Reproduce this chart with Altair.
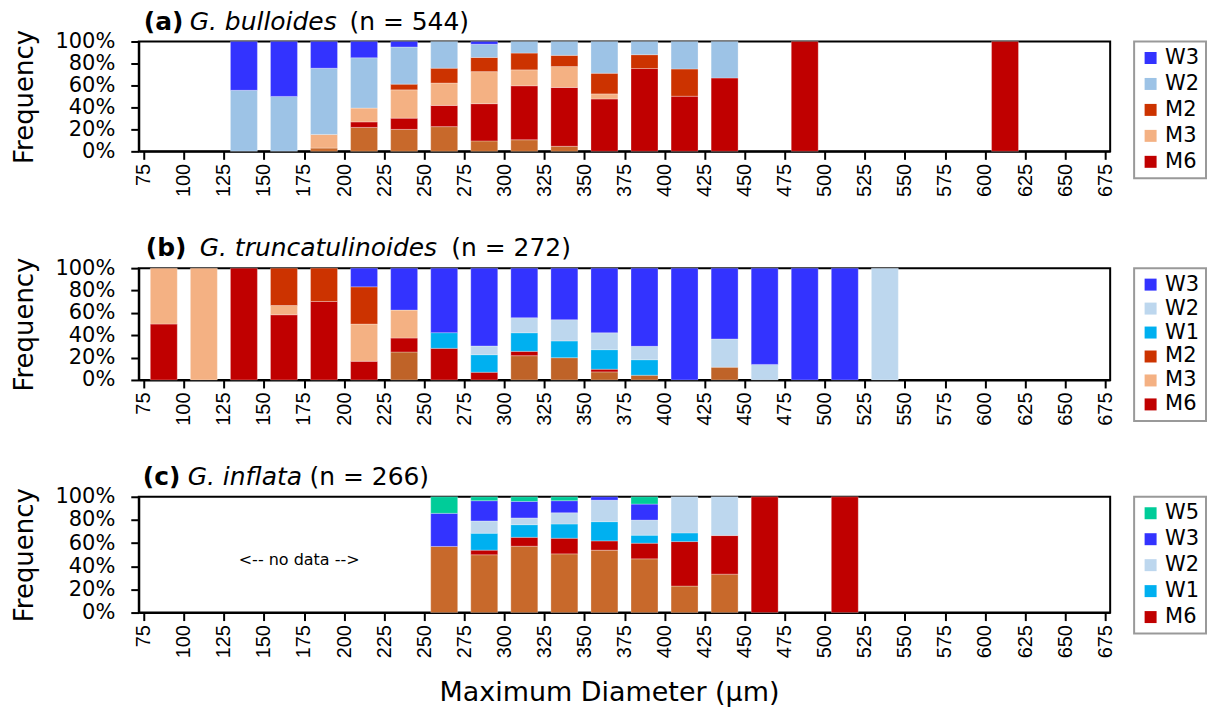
import altair as alt
import pandas as pd

# ---------------------------------------------------------------------------
# Size-class frequencies (%) per 25 µm maximum-diameter bin (bin centres).
# "Other" is the unlabelled bottom segment of each stack.
# ---------------------------------------------------------------------------

# (a) G. bulloides
a_bins = [137.5, 162.5, 187.5, 212.5, 237.5, 262.5, 287.5, 312.5, 337.5, 362.5, 387.5, 412.5, 437.5, 487.5, 612.5]
a_other = [0, 0, 3.0, 21.8, 20.0, 22.5, 9.5, 10.5, 4.6, 0, 0, 0, 0, 0, 0]
a_m6 = [0, 0, 0, 5.0, 10.2, 19.3, 33.9, 49.2, 53.6, 47.7, 75.4, 50.2, 66.8, 100, 100]
a_m3 = [0, 0, 12.4, 12.6, 25.8, 20.4, 29.2, 14.5, 19.0, 4.6, 0, 0, 0, 0, 0]
a_m2 = [0, 0, 0, 0, 5.2, 13.5, 12.9, 15.3, 10.2, 18.8, 12.6, 24.8, 0, 0, 0]
a_w2 = [55.6, 50.0, 60.3, 45.8, 33.8, 24.3, 12.0, 10.5, 12.6, 28.9, 12.0, 25.0, 33.2, 0, 0]
a_w3 = [44.4, 50.0, 24.3, 14.8, 5.0, 0, 2.5, 0, 0, 0, 0, 0, 0, 0, 0]

# (b) G. truncatulinoides
b_bins = [87.5, 112.5, 137.5, 162.5, 187.5, 212.5, 237.5, 262.5, 287.5, 312.5,
          337.5, 362.5, 387.5, 412.5, 437.5, 462.5, 487.5, 512.5, 537.5]
b_other = [0, 0, 0, 0, 0, 0, 25.0, 0, 0, 21.7, 19.9, 7.2, 4.2, 0, 11.4, 0, 0, 0, 0]
b_m6 = [50.0, 0, 100, 58.3, 70.2, 16.7, 12.5, 28.3, 6.9, 3.9, 0, 2.4, 0, 0, 0, 0, 0, 0, 0]
b_m3 = [50.0, 100, 0, 8.3, 0, 33.3, 25.0, 0, 0, 0, 0, 0, 0, 0, 0, 0, 0, 0, 0]
b_m2 = [0, 0, 0, 33.4, 29.8, 33.3, 0, 0, 0, 0, 0, 0, 0, 0, 0, 0, 0, 0, 0]
b_w1 = [0, 0, 0, 0, 0, 0, 0, 14.0, 15.7, 16.6, 15.0, 17.5, 13.9, 0, 0, 0, 0, 0, 0]
b_w2 = [0, 0, 0, 0, 0, 0, 0, 0, 7.8, 13.5, 19.0, 15.1, 12.0, 0, 25.3, 13.9, 0, 0, 100]
b_w3 = [0, 0, 0, 0, 0, 16.7, 37.5, 57.7, 69.6, 44.3, 46.1, 57.8, 69.9, 100, 63.3, 86.1, 100, 100, 0]

# (c) G. inflata
c_bins = [262.5, 287.5, 312.5, 337.5, 362.5, 387.5, 412.5, 437.5, 462.5, 512.5]
c_other = [57.1, 49.9, 57.3, 50.7, 53.9, 46.4, 22.9, 33.2, 0, 0]
c_m6 = [0, 4.0, 7.7, 13.5, 8.0, 13.5, 38.4, 33.3, 100, 100]
c_w1 = [0, 14.6, 10.9, 12.3, 16.6, 6.9, 7.5, 0, 0, 0]
c_w2 = [0, 10.6, 5.8, 9.7, 18.6, 13.1, 31.2, 33.5, 0, 0]
c_w3 = [28.6, 17.5, 14.3, 10.4, 2.9, 13.8, 0, 0, 0, 0]
c_w5 = [14.3, 3.4, 4.0, 3.4, 0, 6.3, 0, 0, 0, 0]

# Axis ticks
x_ticks = list(range(75, 676, 25))
y_ticks = [0, 20, 40, 60, 80, 100]

# Colours per class
COLORS = {
    "W5": "#00CC99",
    "W3": "#3333FF",
    "W1": "#00B0F0",
    "M2": "#CC3300",
    "M3": "#F4B183",
    "M6": "#C00000",
}

STACK = ["Other", "M6", "M3", "M2", "W1", "W2", "W3", "W5"]

TEXT_FONT = "DejaVu Sans"
TICK_FONT = "Liberation Sans"

X_SCALE = alt.Scale(domain=[75, 675], nice=False, zero=False)
Y_SCALE = alt.Scale(domain=[0, 100], nice=False)


def frame(bins, series):
    rows = []
    for cls, vals in series.items():
        for b, v in zip(bins, vals):
            if v > 0:
                rows.append({"bin": b, "cls": cls, "pct": v, "rank": STACK.index(cls)})
    return pd.DataFrame(rows)


def heading(parts):
    layers = []
    for text, x, weight, style in parts:
        layers.append(
            alt.Chart(pd.DataFrame({"t": [text]}))
            .mark_text(
                align="left", baseline="alphabetic", font=TEXT_FONT, fontSize=25,
                fontWeight=weight, fontStyle=style, color="black",
            )
            .encode(x=alt.value(x), y=alt.value(-12), text="t:N")
        )
    return layers


def axes(x_title):
    x_axis = alt.Axis(
        values=x_ticks, labelAngle=270, labelFont=TICK_FONT, labelFontSize=20,
        tickSize=8, labelPadding=4, title=x_title, titleFont=TEXT_FONT,
        titleFontSize=27, titleFontWeight="normal", titlePadding=22,
        titleX=471,
    )
    y_axis = alt.Axis(
        values=y_ticks, labelExpr="datum.value + '%'", labelFont=TEXT_FONT,
        labelFontSize=21, labelOverlap=False, tickSize=8, labelPadding=16,
        title="Frequency", titleFont=TEXT_FONT, titleFontSize=26,
        titleFontWeight="normal", titlePadding=17,
    )
    return x_axis, y_axis


def panel(bins, series, legend_order, colors, height, parts, row_pad,
          x_title=None, note=None):
    df = frame(bins, series)
    domain = legend_order + ["Other"]
    x_axis, y_axis = axes(x_title)
    bars = (
        alt.Chart(df)
        .mark_bar(size=27, stroke="white", strokeWidth=0.8, strokeOpacity=0.35)
        .encode(
            x=alt.X("bin:Q", scale=X_SCALE, axis=x_axis),
            y=alt.Y("pct:Q", stack="zero", scale=Y_SCALE, axis=y_axis),
            color=alt.Color(
                "cls:N",
                scale=alt.Scale(domain=domain, range=colors),
                legend=alt.Legend(
                    title=None, values=legend_order, orient="right", offset=24,
                    symbolType="square", symbolSize=144, symbolStrokeWidth=0,
                    labelFont=TEXT_FONT, labelFontSize=21, labelOffset=4,
                    rowPadding=row_pad, padding=6, strokeColor="#999999",
                    cornerRadius=0,
                ),
            ),
            order=alt.Order("rank:Q", sort="ascending"),
        )
    )
    layers = [bars] + heading(parts)
    if note is not None:
        text, nx, ny = note
        layers.append(
            alt.Chart(pd.DataFrame({"t": [text]}))
            .mark_text(font=TEXT_FONT, fontSize=16, color="black", baseline="middle")
            .encode(
                x=alt.XDatum(nx, type="quantitative", scale=X_SCALE, axis=x_axis),
                y=alt.YDatum(ny, type="quantitative", scale=Y_SCALE, axis=y_axis),
                text="t:N",
            )
        )
    return alt.layer(*layers).properties(width=973, height=height)


panel_a = panel(
    a_bins,
    {"Other": a_other, "M6": a_m6, "M3": a_m3, "M2": a_m2, "W2": a_w2, "W3": a_w3},
    ["W3", "W2", "M2", "M3", "M6"],
    [COLORS["W3"], "#9DC3E6", COLORS["M2"], COLORS["M3"], COLORS["M6"], "#C8692B"],
    110,
    [("(a)", 5, "bold", "normal"), ("G. bulloides", 51, "normal", "italic"),
     ("(n = 544)", 211, "normal", "normal")],
    4,
)

panel_b = panel(
    b_bins,
    {"Other": b_other, "M6": b_m6, "M3": b_m3, "M2": b_m2, "W1": b_w1, "W2": b_w2, "W3": b_w3},
    ["W3", "W2", "W1", "M2", "M3", "M6"],
    [COLORS["W3"], "#BDD7EE", COLORS["W1"], COLORS["M2"], COLORS["M3"], COLORS["M6"], "#BF6328"],
    112,
    [("(b)", 7, "bold", "normal"), ("G. truncatulinoides", 61, "normal", "italic"),
     ("(n = 272)", 313, "normal", "normal")],
    2,
)

panel_c = panel(
    c_bins,
    {"Other": c_other, "M6": c_m6, "W1": c_w1, "W2": c_w2, "W3": c_w3, "W5": c_w5},
    ["W5", "W3", "W2", "W1", "M6"],
    [COLORS["W5"], COLORS["W3"], "#BDD7EE", COLORS["W1"], COLORS["M6"], "#C8692B"],
    116,
    [("(c)", 4, "bold", "normal"), ("G. inflata", 49, "normal", "italic"),
     ("(n = 266)", 171, "normal", "normal")],
    4,
    x_title="Maximum Diameter (µm)",
    note=("<-- no data -->", 172, 45),
)

chart = (
    alt.vconcat(panel_a, panel_b, panel_c, spacing=37)
    .resolve_scale(color="independent")
    .properties(padding={"left": 10, "top": 8, "right": 2, "bottom": 5})
    .configure_view(stroke="black", strokeWidth=2)
    .configure_axis(
        domainColor="black", domainWidth=2, tickColor="black", tickWidth=2,
        grid=False, labelColor="black", titleColor="black",
    )
    .configure_legend(strokeWidth=2)
)

chart.save("out.html", embed_options={"renderer": "svg", "actions": False})
